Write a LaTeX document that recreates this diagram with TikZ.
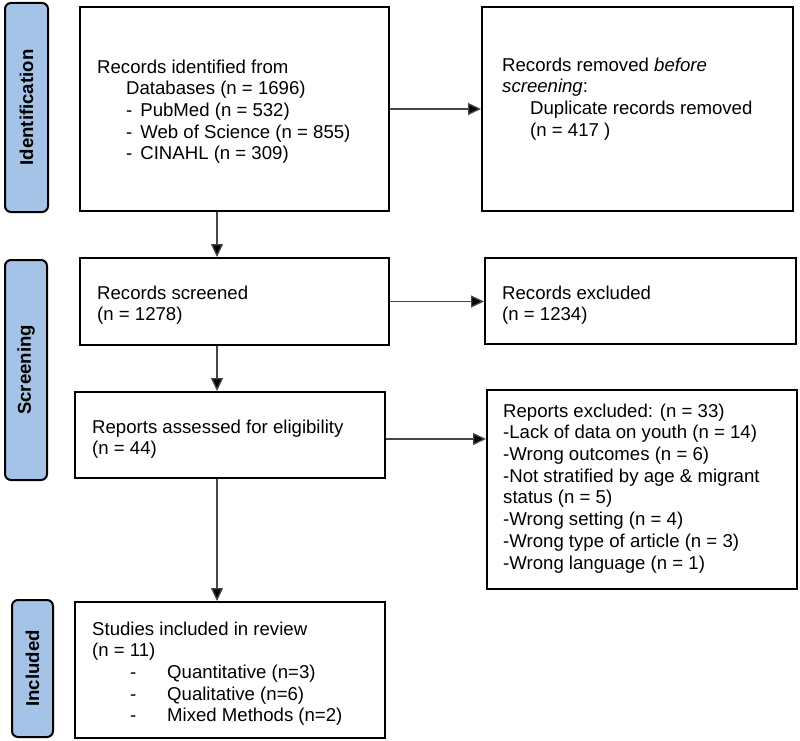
\documentclass[tikz,border=0pt]{standalone}
\usepackage{fontspec}
\setmainfont{Liberation Sans}
\usetikzlibrary{arrows.meta,calc}
\definecolor{phasefill}{RGB}{164,195,230}
\definecolor{arrowgray}{RGB}{70,70,70}
\begin{document}
\begin{tikzpicture}[x=1pt,y=-1pt,
  box/.style={draw=black,line width=2pt,rectangle,inner sep=0pt},
  phase/.style={draw=black,line width=2pt,fill=phasefill,rounded corners=6pt,rotate=90,inner sep=0pt,font=\fontsize{18.6}{21.7}\selectfont\bfseries},
  txt/.style={anchor=north west,inner sep=0pt,align=left,font=\fontsize{18.6}{21.7}\selectfont},
  conn/.style={draw=arrowgray,line width=1.3pt,-{Triangle[length=13pt,width=12pt,fill=black]}}
]
\useasboundingbox (0,0) rectangle (800,741);
% phase labels
\node[phase,minimum width=209pt,minimum height=43pt] (p1) at (26.5,107.5) {Identification};
\node[phase,minimum width=220pt,minimum height=42pt] (p2) at (26,370) {Screening};
\node[phase,minimum width=137pt,minimum height=41pt] (p3) at (32.5,668.5) {Included};
% boxes
\node[box,minimum width=309pt,minimum height=204pt] (b1) at (234.5,109) {};
\node[box,minimum width=311pt,minimum height=204pt] (b2) at (637.5,109) {};
\node[box,minimum width=309pt,minimum height=87pt] (b3) at (234.5,301.5) {};
\node[box,minimum width=311pt,minimum height=86pt] (b4) at (640.5,301) {};
\node[box,minimum width=310pt,minimum height=86pt] (b5) at (230,435) {};
\node[box,minimum width=310pt,minimum height=199pt] (b6) at (642,489.5) {};
\node[box,minimum width=310pt,minimum height=136pt] (b7) at (230,670) {};
% texts
\node[txt] (t1) at (97,59.5) {Records identified from\\
\hspace{29pt}Databases (n = 1696)\\
\hspace{29pt}-\hspace{8pt}PubMed (n = 532)\\
\hspace{29pt}-\hspace{8pt}Web of Science (n = 855)\\
\hspace{29pt}-\hspace{8pt}CINAHL (n = 309)};
\node[txt] (t2) at (502,57.5) {Records removed \textit{before}\\
\textit{screening}:\\
\hspace{28pt}Duplicate records removed\\
\hspace{28pt}(n = 417 )};
\node[txt] (t3) at (97,285.5) {Records screened\\(n = 1278)};
\node[txt] (t4) at (502,285.5) {Records excluded\\(n = 1234)};
\node[txt] (t5) at (92,419.5) {Reports assessed for eligibility\\(n = 44)};
\node[txt] (t6) at (503,403.5) {Reports excluded: (n = 33)\\
-Lack of data on youth (n = 14)\\
-Wrong outcomes (n = 6)\\
-Not stratified by age \& migrant\\
status (n = 5)\\
-Wrong setting (n = 4)\\
-Wrong type of article (n = 3)\\
-Wrong language (n = 1)};
\node[txt] (t7) at (92,621.5) {Studies included in review\\
(n = 11)\\
\hspace{38pt}\makebox[37pt][l]{-}Quantitative (n=3)\\
\hspace{38pt}\makebox[37pt][l]{-}Qualitative (n=6)\\
\hspace{38pt}\makebox[37pt][l]{-}Mixed Methods (n=2)};
% connectors
\coordinate (ax) at (217,0);
\draw[conn] (b1.south -| ax) -- (b3.north -| ax);
\draw[conn] (b3.south -| ax) -- (b5.north -| ax);
\draw[conn] (b5.south -| ax) -- (b7.north -| ax);
\draw[conn] (b1.east) -- (b1.east -| b2.west);
\draw[conn] (b3.east) -- (b3.east -| b4.west);
\coordinate (ry) at (0,439);
\draw[conn] (b5.east |- ry) -- (b6.west |- ry);
\end{tikzpicture}
\end{document}
